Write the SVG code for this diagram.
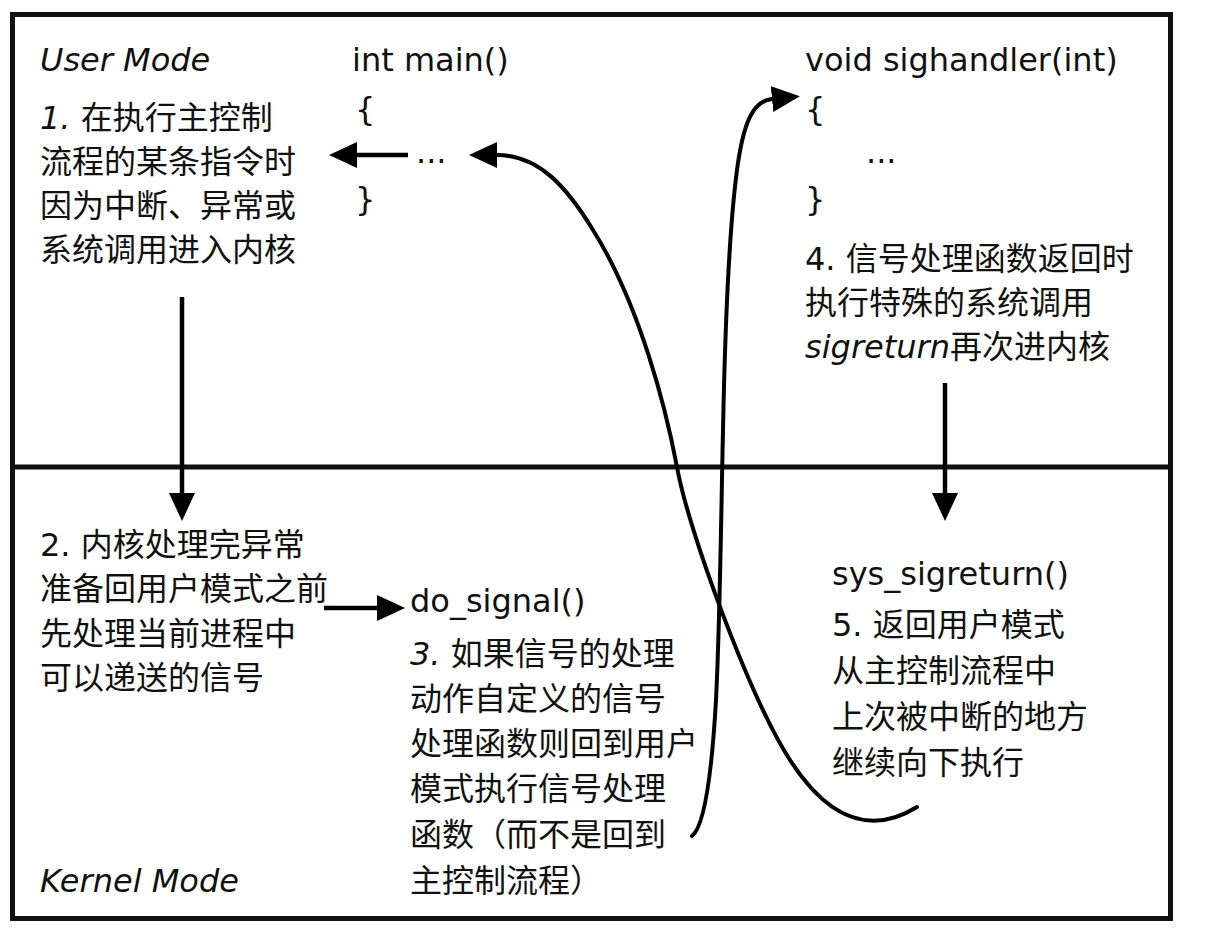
<svg xmlns="http://www.w3.org/2000/svg" width="1210" height="940" viewBox="0 0 1210 940">
<style>
  .t { font-family: "DejaVu Sans", "Noto Sans CJK SC", sans-serif; font-size: 32px; fill: #111; }
  .cn { font-family: "Noto Sans CJK SC", "DejaVu Sans", sans-serif; }
  .it { font-style: italic; }
  .frame { fill: none; stroke: #111; stroke-width: 5; }
  .edge { fill: none; stroke: #000; stroke-width: 4.5; marker-end: url(#ah); }
  .curve { fill: none; stroke: #000; stroke-width: 4; stroke-linecap: round; }
</style>
<defs>
  <marker id="ah" markerUnits="userSpaceOnUse" viewBox="0 0 28 26" refX="0" refY="13" markerWidth="28" markerHeight="26" orient="auto">
    <path d="M0,0 L28,13 L0,26 Z" fill="#000"/>
  </marker>
</defs>
<rect width="1210" height="940" fill="#fff"/>
<g id="frame">
  <rect class="frame" x="12.5" y="14.5" width="1158" height="904"/>
  <line class="frame" x1="12" y1="467" x2="1171" y2="467"/>
</g>
<g id="user-mode-label"><text class="t it" x="40" y="71">User Mode</text></g>
<g id="kernel-mode-label"><text class="t it" x="40" y="892">Kernel Mode</text></g>
<g id="main">
  <text class="t" x="352" y="71">int main()</text>
  <text class="t" x="355" y="120">{</text>
  <text class="t" x="416" y="163">...</text>
  <text class="t" x="355" y="210">}</text>
</g>
<g id="step1">
  <text class="t" x="40" y="129"><tspan class="it">1.</tspan> <tspan class="cn">在执行主控制</tspan></text>
  <text class="t cn" x="40" y="173">流程的某条指令时</text>
  <text class="t cn" x="40" y="217">因为中断、异常或</text>
  <text class="t cn" x="40" y="261">系统调用进入内核</text>
</g>
<g id="sighandler">
  <text class="t" x="805" y="71">void sighandler(int)</text>
  <text class="t" x="805" y="120">{</text>
  <text class="t" x="866" y="163">...</text>
  <text class="t" x="805" y="210">}</text>
</g>
<g id="step4">
  <text class="t" x="805" y="270">4. <tspan class="cn">信号处理函数返回时</tspan></text>
  <text class="t cn" x="805" y="314">执行特殊的系统调用</text>
  <text class="t" x="805" y="358"><tspan class="it">sigreturn</tspan><tspan class="cn">再次进内核</tspan></text>
</g>
<g id="step2">
  <text class="t" x="40" y="556">2. <tspan class="cn">内核处理完异常</tspan></text>
  <text class="t cn" x="40" y="600">准备回用户模式之前</text>
  <text class="t cn" x="40" y="645">先处理当前进程中</text>
  <text class="t cn" x="40" y="689">可以递送的信号</text>
</g>
<g id="do_signal">
  <text class="t" x="410" y="612">do_signal()</text>
</g>
<g id="step3">
  <text class="t" x="410" y="665"><tspan class="it">3.</tspan> <tspan class="cn">如果信号的处理</tspan></text>
  <text class="t cn" x="410" y="710">动作自定义的信号</text>
  <text class="t cn" x="410" y="755">处理函数则回到用户</text>
  <text class="t cn" x="410" y="800">模式执行信号处理</text>
  <text class="t cn" x="410" y="846">函数（而不是回到</text>
  <text class="t cn" x="410" y="892">主控制流程）</text>
</g>
<g id="sys_sigreturn">
  <text class="t" x="832" y="585">sys_sigreturn()</text>
</g>
<g id="step5">
  <text class="t" x="832" y="636">5. <tspan class="cn">返回用户模式</tspan></text>
  <text class="t cn" x="832" y="682">从主控制流程中</text>
  <text class="t cn" x="832" y="728">上次被中断的地方</text>
  <text class="t cn" x="832" y="774">继续向下执行</text>
</g>
<g id="connectors">
  <path class="edge" d="M408,155 L357,155"/>
  <path class="edge" d="M182,297 L182,493"/>
  <path class="edge" d="M324,608 L377,608"/>
  <path class="edge" d="M945,383 L945,493"/>
  <path class="curve" marker-end="url(#ah)" d="M692,836 C705,826 712,770 716,700 C720,620 721,520 723,430 C725,330 729,230 737,170 C743,125 752,101 772,99"/>
  <path class="curve" marker-end="url(#ah)" d="M917,807 C880,830 835,830 790,760 C750,698 688,530 677,467 C666,409 640,305 593,230 C568,189 540,155 497,155"/>
</g>
</svg>
